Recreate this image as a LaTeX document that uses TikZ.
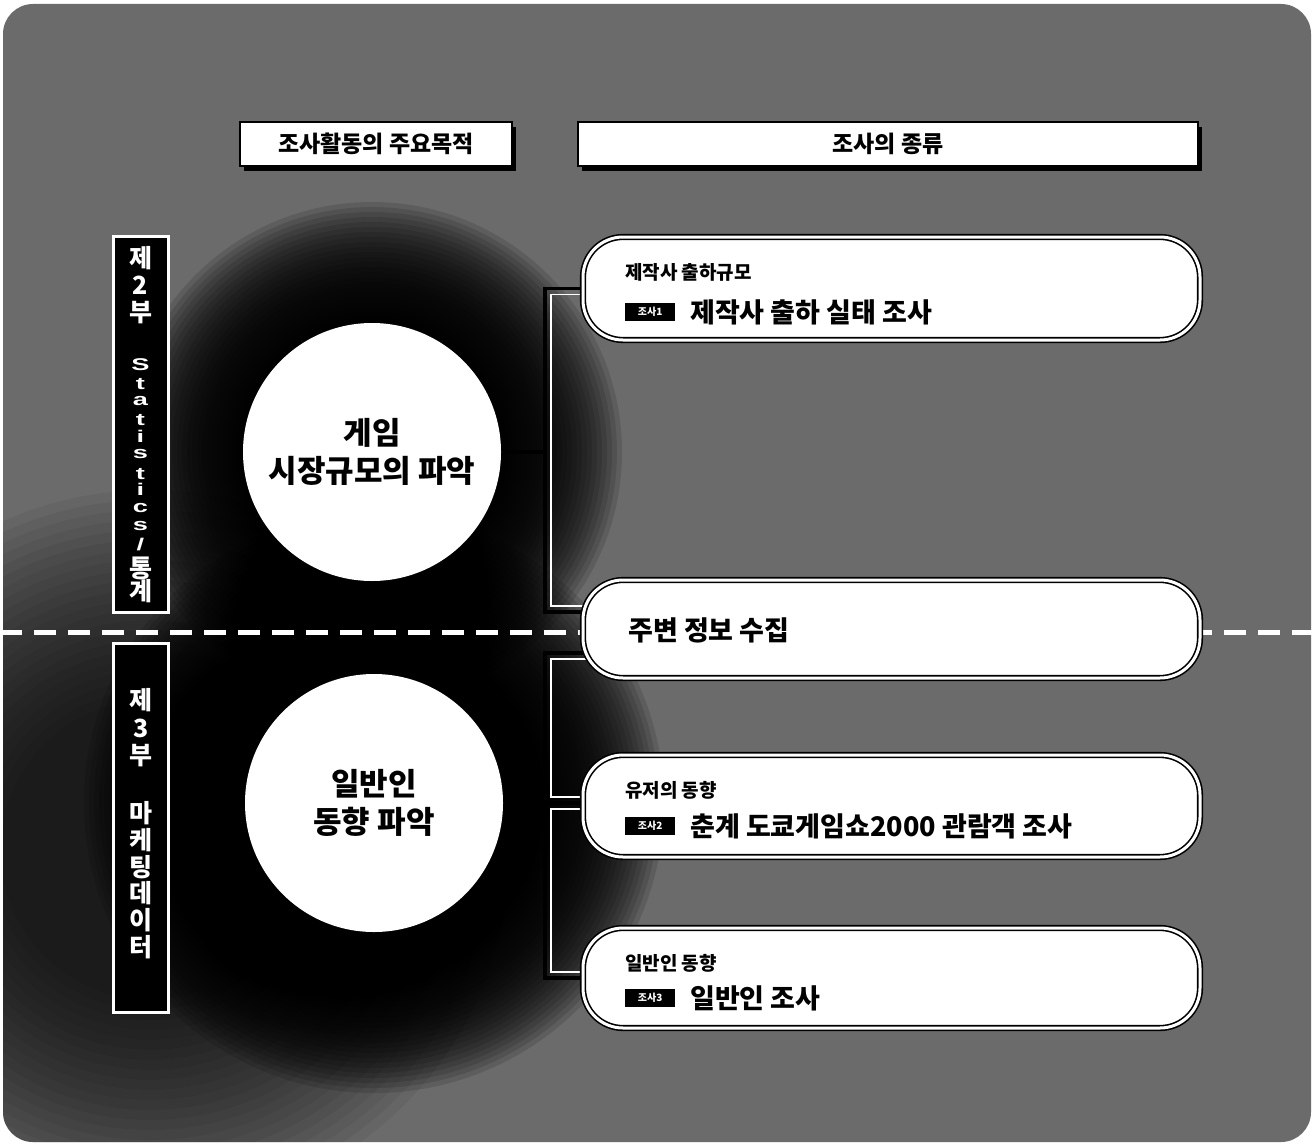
\documentclass[tikz,border=0pt]{standalone}
\usepackage{fontspec}
\newfontfamily\kr{Noto Sans CJK KR}
\newfontfamily\latw{Liberation Sans}[FakeStretch=1.6]
\usetikzlibrary{calc}
\pgfdeclarelayer{back}
\pgfdeclarelayer{mid}
\pgfsetlayers{back,mid,main}
\definecolor{bgc}{gray}{0.42}
\def\sl{/}
\tikzset{
 hdr/.style={draw=black, line width=1.5pt, fill=white, inner sep=0pt, minimum height=44pt, font=\kr\bfseries\fontsize{23}{27}\selectfont},
 tabbox/.style={fill=black, draw=white, line width=3pt, inner sep=0pt, minimum width=55pt},
 tabchar/.style={text=white, anchor=base, font=\kr\bfseries\fontsize{25}{25}\selectfont, inner sep=0pt},
 tablat/.style={text=white, anchor=base, font=\latw\bfseries\fontsize{17}{17}\selectfont, inner sep=0pt},
 topic/.style={circle, fill=white, minimum size=258pt, inner sep=0pt, align=center, font=\kr\bfseries\fontsize{31}{38}\selectfont},
 rbox/.style={draw=black, line width=1.6pt, double=white, double distance=3pt, fill=white, rounded corners=40pt, minimum width=617pt, inner sep=0pt},
 lbl/.style={anchor=west, inner sep=0pt, font=\kr\bfseries\fontsize{19}{19}\selectfont},
 ttl/.style={anchor=west, inner sep=0pt, font=\kr\bfseries\fontsize{27}{27}\selectfont},
 badge/.style={anchor=west, fill=black, text=white, minimum width=50pt, minimum height=18pt, inner sep=0pt, font=\kr\bfseries\fontsize{10}{10}\selectfont},
 brk/.style={draw=black, line width=3.5pt},
 brkw/.style={draw=white, line width=1.8pt},
 divider/.style={draw=white, line width=5pt, dash pattern=on 22pt off 12pt},
 shade/.style={fill=black, opacity=0.12},
 shadel/.style={fill=black, opacity=0.05},
}
\begin{document}
\begin{tikzpicture}[x=1pt,y=-1pt]
\useasboundingbox (0,0) rectangle (1314,1145);
% ---------- nodes ----------
\fill[black] (244,127) rectangle (516,171);
\node[hdr, minimum width=272pt] (hA) at (376,144) {조사활동의 주요목적};
\fill[black] (582,127) rectangle (1202,171);
\node[hdr, minimum width=620pt] (hB) at (888,144) {조사의 종류};

\node[tabbox, minimum height=376pt] (tab1) at (140.5,424) {};
\node[tabbox, minimum height=369pt] (tab2) at (141,827.5) {};
\foreach \c/\yy [count=\i] in {제/267, 2/294, 부/321, 통/577, 계/600}
  \node[tabchar] (ta\i) at (140.5,\yy) {\c};
\foreach \c/\yy [count=\i] in {S/370, t/389, a/405, t/425, i/442, s/458, t/479, i/495, c/512, s/530, \sl/550}
  \node[tablat] (tl\i) at (140.5,\yy) {\c};
\foreach \c/\yy [count=\i] in {제/709, 3/737, 부/764, 마/822, 케/849, 팅/876, 데/902, 이/929, 터/956}
  \node[tabchar] (tb\i) at (141,\yy) {\c};

\node[topic] (c1) at (372,452) {게임\\시장규모의 파악};
\node[topic] (c2) at (374,803) {일반인\\동향 파악};

\node[rbox, minimum height=103pt] (bA) at (891.5,288.5) {};
\node[rbox, minimum height=98pt] (bB) at (891.5,629) {};
\node[rbox, minimum height=102pt] (bC) at (891.5,806) {};
\node[rbox, minimum height=100pt] (bD) at (891.5,978) {};

\node[lbl] (lA) at (625,272) {제작사 출하규모};
\node[badge] (gA) at (625,312) {조사1};
\node[ttl] (tA) at (690,312) {제작사 출하 실태 조사};
\node[ttl] (tB) at (628,630) {주변 정보 수집};
\node[lbl] (lC) at (625,790) {유저의 동향};
\node[badge] (gC) at (625,826) {조사2};
\node[ttl] (tC) at (690,826) {춘계 도쿄게임쇼2000 관람객 조사};
\node[lbl] (lD) at (625,963) {일반인 동향};
\node[badge] (gD) at (625,998) {조사3};
\node[ttl] (tD) at (690,998) {일반인 조사};

% ---------- background ----------
\begin{pgfonlayer}{back}
\fill[white] (0,0) rectangle (1314,1145);
\begin{scope}
\clip[rounded corners=30pt] (3,4) rectangle (1311,1142);
\fill[bgc] (0,0) rectangle (1314,1145);
\foreach \r in {150,160,...,360} \fill[shadel] (150,850) circle (\r);
\foreach \r in {135,140,...,250} \fill[shade] (c1.center) circle (\r);
\foreach \r in {135,140,...,290} \fill[shade] (c2.center) circle (\r);
\end{scope}
\draw[divider] (0,632) -- (1314,632);
\end{pgfonlayer}

% ---------- connectors ----------
\coordinate (k1) at (545,288.5);
\coordinate (k2) at (545,612);
\coordinate (k3) at (545,653);
\coordinate (k4) at (545,978);
\begin{pgfonlayer}{mid}
\draw[brk] ($(bA.west)+(20,0)$) -- (k1) -- (k2) -- ($(k2 -| bB.west)+(20,0)$);
\draw[brkw] ($(bA.west)+(20,6)$) -- ($(k1)+(6,6)$) -- ($(k2)+(6,-6)$) -- ($(k2 -| bB.west)+(20,-6)$);
\draw[brk] ($(k3 -| bB.west)+(20,0)$) -- (k3) -- (k4) -- ($(bD.west)+(20,0)$);
\draw[brk] (c2.east) -- ($(c2.east -| bC.west)+(20,0)$);
\draw[brk] (c1.east) -- (c1.east -| k1);
\draw[brkw] ($(k3 -| bB.west)+(20,6)$) -- ($(k3)+(6,6)$) -- ($(c2.east -| k3)+(6,-6)$) -- ($(c2.east -| bC.west)+(20,-6)$);
\draw[brkw] ($(c2.east -| bC.west)+(20,6)$) -- ($(c2.east -| k3)+(6,6)$) -- ($(k4)+(6,-6)$) -- ($(bD.west)+(20,-6)$);
\end{pgfonlayer}
\end{tikzpicture}
\end{document}
